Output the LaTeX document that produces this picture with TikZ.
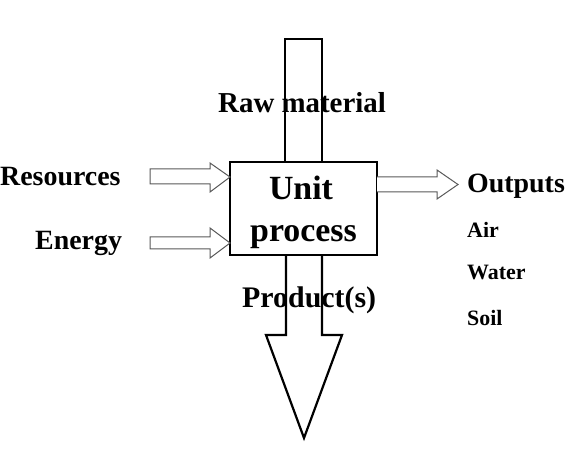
\documentclass[tikz,border=0pt]{standalone}
\usepackage{fontspec}
\setmainfont{Liberation Serif}
\begin{document}
\begin{tikzpicture}[x=1bp,y=-1bp,
  lbl/.style={anchor=base west,inner sep=0pt,font=\bfseries\fontsize{28}{30}\selectfont},
  sublbl/.style={anchor=base west,inner sep=0pt,font=\bfseries\fontsize{22}{24}\selectfont},
  mid/.style={anchor=base,inner sep=0pt,font=\bfseries\fontsize{34}{36}\selectfont},
  flow/.style={draw=black,line width=2.2bp,line join=miter},
  smallarrow/.style={draw=black!65,line width=1bp,fill=white},
  boxst/.style={draw=black,line width=2.6bp,fill=white,minimum width=147bp,minimum height=93bp,inner sep=0pt}]
\useasboundingbox (0,0) rectangle (578,455);
% unit process box
\node[boxst] (up) at (303.5,208.5) {};
\node[mid] (unit) at (301,200) {Unit};
\node[mid] (proc) at (303.5,242) {process};
% labels
\node[lbl,font=\bfseries\fontsize{29}{31}\selectfont] (raw) at (218,113) {Raw material};
\node[lbl,font=\bfseries\fontsize{30}{32}\selectfont] (prod) at (242,307) {Product(s)};
\node[lbl] (res) at (0,186) {Resources};
\node[lbl] (en) at (35,250) {Energy};
\node[lbl] (out) at (467,193) {Outputs};
\node[sublbl] (air) at (467,238) {Air};
\node[sublbl] (wat) at (467,280) {Water};
\node[sublbl] (soil) at (467,325) {Soil};
% raw material shaft
\draw[flow] (285,162) -- (285,39) -- (322,39) -- (322,162);
% product arrow
\draw[flow] (286,255) -- (286,335) -- (266,335) -- (304,438) -- (342,335) -- (322,335) -- (322,255);
% input arrows
\draw[smallarrow] (150,169) -- (210,169) -- (210,163) -- (230,177) -- (210,192) -- (210,184) -- (150,184) -- cycle;
\draw[smallarrow] (150,237) -- (210,237) -- (210,228) -- (230,243) -- (210,258) -- (210,249) -- (150,249) -- cycle;
% output arrow
\draw[smallarrow] (377,177) -- (437,177) -- (437,170) -- (458,184.5) -- (437,199) -- (437,192) -- (377,192);
\end{tikzpicture}
\end{document}
